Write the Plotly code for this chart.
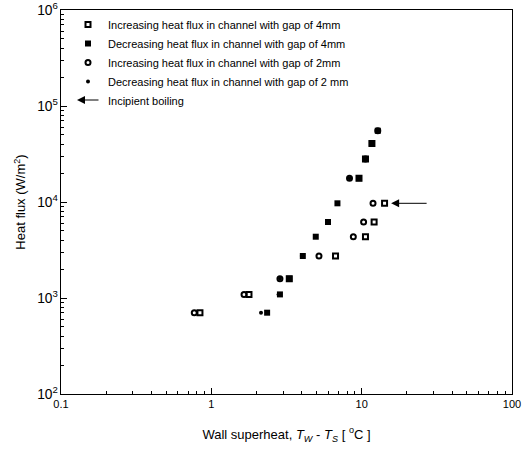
import plotly.graph_objects as go
import math

# ---- data ----
inc4_x = [0.84, 1.78, 3.3, 6.7, 10.6, 12.1, 14.2, 9.6, 10.6, 11.7]
inc4_q = [703, 1090, 1590, 2740, 4350, 6190, 9690, 17700, 28100, 40800]

dec4_x = [12.8, 11.7, 10.6, 9.6, 6.9, 5.97, 4.95, 4.06, 3.3, 2.86, 2.35]
dec4_q = [55300, 40800, 28100, 17700, 9690, 6190, 4350, 2740, 1590, 1090, 703]

inc2_x = [0.77, 1.65, 2.86, 5.2, 8.8, 10.3, 11.9, 8.3, 10.6, 12.8]
inc2_q = [703, 1090, 1590, 2740, 4350, 6190, 9690, 17700, 28100, 55300]

dec2_x = [11.7, 10.4, 8.3, 6.9, 5.9, 4.9, 4.0, 2.86, 2.8, 2.14]
dec2_q = [40800, 28100, 17700, 9690, 6190, 4350, 2740, 1590, 1090, 703]

incipient_x = 15.7
incipient_q = 9690

names = [
    "Increasing heat flux in channel with gap of 4mm",
    "Decreasing heat flux in channel with gap of 4mm",
    "Increasing heat flux in channel with gap of 2mm",
    "Decreasing heat flux in channel with gap of 2 mm",
    "Incipient boiling",
]

FONT = "Liberation Sans, Arial, sans-serif"

fig = go.Figure()
fig.add_trace(go.Scatter(x=inc4_x, y=inc4_q, mode="markers", name=names[0],
                         marker=dict(symbol="square-open", size=5, color="black",
                                     line=dict(width=2, color="black"))))
fig.add_trace(go.Scatter(x=dec4_x, y=dec4_q, mode="markers", name=names[1],
                         marker=dict(symbol="square", size=6, color="black")))
fig.add_trace(go.Scatter(x=inc2_x, y=inc2_q, mode="markers", name=names[2],
                         marker=dict(symbol="circle-open", size=5, color="black",
                                     line=dict(width=2, color="black"))))
fig.add_trace(go.Scatter(x=dec2_x, y=dec2_q, mode="markers", name=names[3],
                         marker=dict(symbol="circle", size=4, color="black")))
fig.add_trace(go.Scatter(x=[None], y=[None], mode="markers", name=names[4],
                         marker=dict(symbol="square", size=6, color="rgba(0,0,0,0)")))

# arrow in plot marking incipient boiling
fig.add_annotation(x=math.log10(incipient_x), y=math.log10(incipient_q),
                   xref="x", yref="y", ax=37, ay=0, axref="pixel", ayref="pixel",
                   text="", showarrow=True, arrowhead=2, arrowsize=1.6,
                   arrowwidth=1, arrowcolor="black")

W, H = 524, 451
ml, mr, mt, mb = 61, 12, 10, 57
pw, ph = W - ml - mr, H - mt - mb

leg_left = 68
leg_top = 10
# arrow in the legend (slot of the last entry)
row5_y = 100
fig.add_annotation(x=(77 - ml) / pw, y=1 - (row5_y - mt) / ph, xref="paper", yref="paper",
                   ax=23, ay=0, text="", showarrow=True, arrowhead=2, arrowsize=1.6,
                   arrowwidth=1, arrowcolor="black")

axis_common = dict(type="log", showline=True, linecolor="black", linewidth=1, mirror=True,
                   tickmode="linear", tick0=0, dtick=1,
                   ticks="inside", ticklen=6, tickwidth=1, tickcolor="black",
                   showgrid=False, zeroline=False,
                   ticklabeloverflow="allow",
                   tickfont=dict(family=FONT, size=11, color="black"),
                   minor=dict(dtick="D1", ticks="inside", ticklen=3, tickwidth=1,
                              tickcolor="black", showgrid=False))

fig.update_xaxes(range=[-1, 2], exponentformat="none",
                 title=dict(text="Wall superheat, <i>T<sub>W</sub></i> - <i>T<sub>S</sub></i> [ <sup>o</sup>C ]",
                            font=dict(family=FONT, size=13, color="black"), standoff=20),
                 **axis_common)
fig.update_yaxes(range=[2, 6], exponentformat="power",
                 title=dict(text="Heat flux (W/m<sup>2</sup>)",
                            font=dict(family=FONT, size=13, color="black"), standoff=8),
                 **axis_common)

fig.update_layout(
    width=W, height=H,
    margin=dict(l=ml, r=mr, t=mt, b=mb, autoexpand=False),
    paper_bgcolor="white", plot_bgcolor="white",
    font=dict(family=FONT, color="black"),
    showlegend=True,
    legend=dict(x=(leg_left - ml) / pw, y=1 - (leg_top - mt) / ph, xanchor="left", yanchor="top",
                bgcolor="rgba(0,0,0,0)", borderwidth=0, itemwidth=30,
                font=dict(family=FONT, size=11, color="black")),
)

# remove the default 8px page margin so the figure fills the window exactly
fig.write_html("out.html", config={"displayModeBar": False},
               post_script="document.body.style.margin='0px';")
